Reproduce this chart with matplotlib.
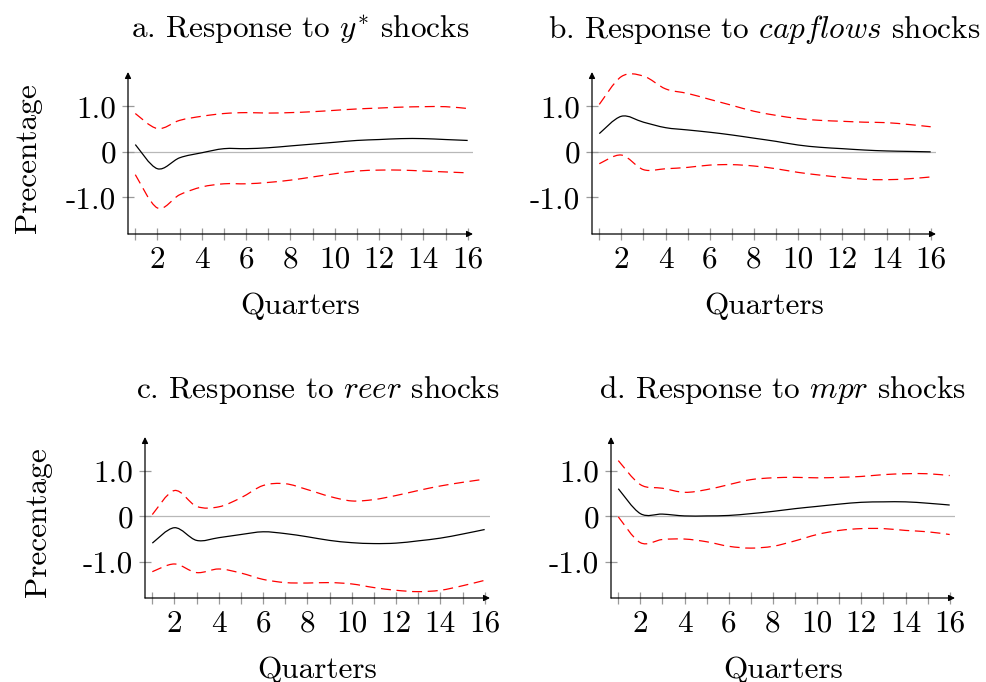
import matplotlib
matplotlib.use("Agg")
import matplotlib.pyplot as plt
from matplotlib.path import Path
from matplotlib.patches import PathPatch
from matplotlib.ticker import FixedLocator, FixedFormatter

plt.rcParams.update({
    "font.family": "cmr10",
    "mathtext.fontset": "cm",
    "axes.unicode_minus": False,
    "axes.formatter.use_mathtext": True,
})

quarters = list(range(1, 17))

# a. y* shocks
a_mid = [0.16, -0.37, -0.13, -0.02, 0.07, 0.07, 0.09, 0.13, 0.17, 0.21, 0.25, 0.27, 0.29, 0.29, 0.27, 0.25]
a_up = [0.84, 0.51, 0.69, 0.78, 0.84, 0.86, 0.85, 0.86, 0.88, 0.91, 0.94, 0.96, 0.98, 0.99, 0.99, 0.95]
a_lo = [-0.50, -1.23, -0.94, -0.77, -0.70, -0.70, -0.67, -0.62, -0.55, -0.48, -0.42, -0.40, -0.40, -0.42, -0.44, -0.46]

# b. capflows shocks
b_mid = [0.40, 0.78, 0.65, 0.53, 0.48, 0.43, 0.37, 0.30, 0.23, 0.15, 0.10, 0.07, 0.04, 0.02, 0.01, 0.00]
b_up = [1.04, 1.65, 1.66, 1.38, 1.28, 1.15, 1.02, 0.89, 0.80, 0.73, 0.69, 0.67, 0.65, 0.64, 0.60, 0.55]
b_lo = [-0.26, -0.07, -0.39, -0.37, -0.34, -0.29, -0.28, -0.31, -0.37, -0.45, -0.51, -0.56, -0.60, -0.61, -0.59, -0.55]

# c. reer shocks
c_mid = [-0.59, -0.25, -0.53, -0.47, -0.40, -0.34, -0.38, -0.45, -0.53, -0.58, -0.60, -0.59, -0.54, -0.48, -0.39, -0.29]
c_up = [0.04, 0.57, 0.22, 0.21, 0.41, 0.68, 0.72, 0.59, 0.44, 0.34, 0.37, 0.46, 0.57, 0.67, 0.75, 0.82]
c_lo = [-1.22, -1.05, -1.24, -1.16, -1.25, -1.39, -1.46, -1.47, -1.46, -1.49, -1.57, -1.63, -1.66, -1.63, -1.53, -1.41]

# d. mpr shocks
d_mid = [0.61, 0.06, 0.05, 0.01, 0.01, 0.02, 0.06, 0.11, 0.17, 0.22, 0.27, 0.31, 0.32, 0.32, 0.29, 0.25]
d_up = [1.23, 0.70, 0.62, 0.53, 0.59, 0.70, 0.81, 0.85, 0.86, 0.85, 0.86, 0.88, 0.92, 0.94, 0.94, 0.90]
d_lo = [-0.01, -0.58, -0.51, -0.50, -0.56, -0.66, -0.70, -0.66, -0.54, -0.40, -0.31, -0.27, -0.27, -0.31, -0.34, -0.40]

titles = [
    r"a. Response to $y^{*}$ shocks",
    r"b. Response to $capflows$ shocks",
    r"c. Response to $reer$ shocks",
    r"d. Response to $mpr$ shocks",
]
x_tick_labels = [str(q) if q % 2 == 0 else "" for q in quarters]
y_ticks = [-1.0, 0.0, 1.0]
y_tick_labels = ["-1.0", "0", "1.0"]

W, H = 986, 682
FS = 22.5
# panel boxes in pixels: left, right, top, bottom
boxes = [(128, 473, 72, 234), (592, 936, 72, 234),
         (145, 490, 437, 598), (611, 955, 437, 598)]
title_pads = [24.5, 24.5, 28, 28]


def smooth_path(xs, ys, k=1 / 6):
    """Cubic bezier through the points (like pgfplots 'smooth')."""
    n = len(xs)
    verts = [(xs[0], ys[0])]
    codes = [Path.MOVETO]
    for j in range(n - 1):
        p0 = max(j - 1, 0)
        p3 = min(j + 2, n - 1)
        c1 = (xs[j] + k * (xs[j + 1] - xs[p0]), ys[j] + k * (ys[j + 1] - ys[p0]))
        c2 = (xs[j + 1] - k * (xs[p3] - xs[j]), ys[j + 1] - k * (ys[p3] - ys[j]))
        verts += [c1, c2, (xs[j + 1], ys[j + 1])]
        codes += [Path.CURVE4] * 3
    return Path(verts, codes)


def draw_curve(ax, ys, **kw):
    ax.add_patch(PathPatch(smooth_path(quarters, ys), fill=False, **kw))


fig = plt.figure(figsize=(W / 100, H / 100), dpi=100)

panels = [(a_mid, a_up, a_lo), (b_mid, b_up, b_lo),
          (c_mid, c_up, c_lo), (d_mid, d_up, d_lo)]

for i, ((mid, up, lo), (l, r, t, b)) in enumerate(zip(panels, boxes)):
    ax = fig.add_axes([l / W, 1 - b / H, (r - l) / W, (b - t) / H])
    ax.set_xlim(0.67, 16.24)
    ax.set_ylim(-1.8, 1.75)

    ax.axhline(0, color="#b8b8b8", lw=0.9, zorder=1)
    draw_curve(ax, up, edgecolor="red", lw=0.9, linestyle=(0, (8, 4.5)), zorder=3)
    draw_curve(ax, lo, edgecolor="red", lw=0.9, linestyle=(0, (8, 4.5)), zorder=3)
    draw_curve(ax, mid, edgecolor="black", lw=0.9, zorder=4)

    for s in ax.spines.values():
        s.set_visible(False)
    arrow = dict(arrowstyle="-|>", color="black", lw=0.9,
                 shrinkA=0, shrinkB=0, mutation_scale=9)
    ax.annotate("", xy=(1, 0), xytext=(0, 0), xycoords="axes fraction",
                arrowprops=arrow, annotation_clip=False)
    ax.annotate("", xy=(0, 1), xytext=(0, 0), xycoords="axes fraction",
                arrowprops=arrow, annotation_clip=False)

    ax.xaxis.set_major_locator(FixedLocator(quarters))
    ax.xaxis.set_major_formatter(FixedFormatter(x_tick_labels))
    ax.yaxis.set_major_locator(FixedLocator(y_ticks))
    ax.yaxis.set_major_formatter(FixedFormatter(y_tick_labels))
    ax.tick_params(direction="inout", length=8, width=0.9, color="#9a9a9a",
                   labelsize=FS, pad=4.5)

    ax.set_title(titles[i], fontsize=FS, pad=title_pads[i])
    ax.set_xlabel("Quarters", fontsize=FS)
    ax.xaxis.set_label_coords(0.5, -0.36)
    if i % 2 == 0:
        ax.set_ylabel("Precentage", fontsize=FS)
        ax.yaxis.set_label_coords(-0.25 if i == 0 else -0.27, 0.47)

fig.savefig("out.png", dpi=100)
